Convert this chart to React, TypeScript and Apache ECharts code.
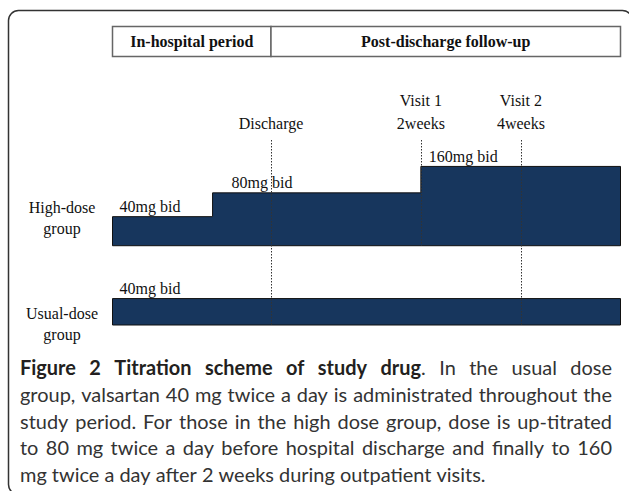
import React, { useEffect, useRef } from "react";
import * as echarts from "echarts";

// ---- data ----
const periodNames = ["In-hospital period", "Post-discharge follow-up"];
const periodStarts = [0, 3.12];
const timelineEnd = 10;

const highDoseStarts = [0, 1.97, 6.07];
const highDoseLevels = [4.1, 5.0, 6.0];
const highDoseBase = 3;
const highDoseLabels = ["40mg bid", "80mg bid", "160mg bid"];

const usualDoseStarts = [0];
const usualDoseLevels = [1];
const usualDoseBase = 0;
const usualDoseLabels = ["40mg bid"];

const markerNames = ["Discharge", "Visit 1\n2weeks", "Visit 2\n4weeks"];
const markerTimes = [3.12, 6.07, 8.04];
const markerTops = [7, 7, 7];
const markerBottoms = [0, 3, 0];

const groupNames = ["High-dose\ngroup", "Usual-dose\ngroup"];

const captionLines = [
  "Figure 2 Titration scheme of study drug. In the usual dose",
  "group, valsartan 40 mg twice a day is administrated throughout the",
  "study period. For those in the high dose group, dose is up-titrated",
  "to 80 mg twice a day before hospital discharge and finally to 160",
  "mg twice a day after 2 weeks during outpatient visits.",
];
const captionBoldChars = 39;

// ---- layout / style ----
const NAVY = "#17365d";
const SERIF = "Liberation Serif";
const SANS = "Lato";
const highLabelOffsets = [7, 19, 8];
const usualLabelOffsets = [7];

const serifStyle = (text: string, extra: any = {}) => ({
  text,
  fontFamily: SERIF,
  fontSize: 16,
  fontWeight: "normal",
  fill: "#111",
  ...extra,
});

function stepSeries(starts: number[], levels: number[], base: number, labels: string[], offsets: number[]) {
  return {
    type: "custom",
    coordinateSystem: "cartesian2d",
    clip: false,
    silent: true,
    data: starts.map((s, i) => [s, levels[i], i]),
    renderItem: (params: any, api: any) => {
      const i = params.dataIndex;
      const children: any[] = [];
      if (i === 0) {
        const pts: number[][] = [];
        pts.push(api.coord([starts[0], base]));
        for (let k = 0; k < starts.length; k++) {
          const end = k + 1 < starts.length ? starts[k + 1] : timelineEnd;
          pts.push(api.coord([starts[k], levels[k]]));
          pts.push(api.coord([end, levels[k]]));
        }
        pts.push(api.coord([timelineEnd, base]));
        children.push({
          type: "polygon",
          shape: { points: pts },
          style: { fill: NAVY, stroke: "#111", lineWidth: 1 },
        });
      }
      const p = api.coord([api.value(0), api.value(1)]);
      children.push({
        type: "text",
        x: p[0] + offsets[i],
        y: p[1] - 10,
        style: serifStyle(labels[i], { align: "left", verticalAlign: "middle" }),
      });
      return { type: "group", children };
    },
  };
}

export default function App() {
  const ref = useRef<HTMLDivElement>(null);
  useEffect(() => {
    if (!ref.current) return;
    const chart = echarts.init(ref.current, undefined, { renderer: "svg" });

    // caption layout (justified)
    const canvas = document.createElement("canvas");
    const ctx = canvas.getContext("2d")!;
    const measure = (t: string, bold: boolean, size: number) => {
      ctx.font = `${bold ? "bold " : ""}${size}px ${SANS}`;
      return ctx.measureText(t).width;
    };
    let capSize = (584 / measure(captionLines[1], false, 100)) * 100;
    capSize = Math.max(14, Math.min(20, capSize));
    const capLeft = 20;
    const capRight = 612;
    const capTop = 367;
    const capStep = 26.8;
    const captionEls: any[] = [];
    captionLines.forEach((line, li) => {
      const words: { bold: string; normal: string }[] = [];
      let idx = 0;
      line.split(" ").forEach((w) => {
        const a = li === 0 ? idx : 1e9;
        const nb = Math.max(0, Math.min(w.length, captionBoldChars - a));
        words.push({ bold: w.slice(0, nb), normal: w.slice(nb) });
        idx += w.length + 1;
      });
      const widths = words.map((w) => measure(w.bold, true, capSize) + measure(w.normal, false, capSize));
      const total = widths.reduce((s, v) => s + v, 0);
      const space = measure(" ", false, capSize);
      const justify = li < captionLines.length - 1;
      let gap = justify ? (capRight - capLeft - total) / (words.length - 1) : space;
      if (gap < space * 0.6) gap = space * 0.6;
      let x = capLeft;
      const y = capTop + li * capStep;
      words.forEach((w, wi) => {
        let text = "";
        if (w.bold) text += `{b|${w.bold}}`;
        if (w.normal) text += `{n|${w.normal}}`;
        captionEls.push({
          type: "text",
          x,
          y,
          silent: true,
          style: {
            text,
            align: "left",
            verticalAlign: "middle",
            rich: {
              b: { fontFamily: SANS, fontWeight: "bold", fontSize: capSize, fill: "#231f20" },
              n: { fontFamily: SANS, fontWeight: "normal", fontSize: capSize, fill: "#333" },
            },
          },
        });
        x += widths[wi] + gap;
      });
    });

    const option: any = {
      animation: false,
      grid: { left: 112.5, top: 140, width: 508, height: 185 },
      xAxis: { type: "value", min: 0, max: timelineEnd, show: false },
      yAxis: { type: "value", min: 0, max: 7, show: false },
      graphic: [
        {
          type: "rect",
          silent: true,
          shape: { x: 8.5, y: 10.5, width: 624, height: 484, r: 10 },
          style: { fill: "none", stroke: "#333", lineWidth: 1.5 },
        },
        {
          type: "text",
          x: 62,
          y: 218,
          silent: true,
          style: serifStyle(groupNames[0], { align: "center", verticalAlign: "middle", lineHeight: 21 }),
        },
        {
          type: "text",
          x: 62,
          y: 323.5,
          silent: true,
          style: serifStyle(groupNames[1], { align: "center", verticalAlign: "middle", lineHeight: 21 }),
        },
        ...captionEls,
      ],
      series: [
        {
          type: "custom",
          coordinateSystem: "cartesian2d",
          clip: false,
          silent: true,
          data: periodStarts.map((s, i) => [s, i]),
          renderItem: (params: any, api: any) => {
            const i = params.dataIndex;
            const s = api.value(0);
            const e = i + 1 < periodStarts.length ? periodStarts[i + 1] : timelineEnd;
            const x0 = api.coord([s, 0])[0];
            const x1 = api.coord([e, 0])[0];
            return {
              type: "group",
              children: [
                {
                  type: "rect",
                  shape: { x: x0, y: 26.5, width: x1 - x0, height: 30 },
                  style: { fill: "#fff", stroke: "#666", lineWidth: 1.5 },
                },
                {
                  type: "text",
                  x: (x0 + x1) / 2,
                  y: 41.5,
                  style: serifStyle(periodNames[i], { fontWeight: "bold", align: "center", verticalAlign: "middle" }),
                },
              ],
            };
          },
        },
        stepSeries(highDoseStarts, highDoseLevels, highDoseBase, highDoseLabels, highLabelOffsets),
        stepSeries(usualDoseStarts, usualDoseLevels, usualDoseBase, usualDoseLabels, usualLabelOffsets),
        {
          type: "custom",
          coordinateSystem: "cartesian2d",
          clip: false,
          silent: true,
          data: markerTimes.map((t, i) => [t, markerTops[i], markerBottoms[i]]),
          renderItem: (params: any, api: any) => {
            const i = params.dataIndex;
            const top = api.coord([api.value(0), api.value(1)]);
            const bot = api.coord([api.value(0), api.value(2)]);
            const x = Math.round(top[0]) + 0.5;
            return {
              type: "group",
              children: [
                {
                  type: "line",
                  shape: { x1: x, y1: top[1], x2: x, y2: bot[1] },
                  style: { stroke: "#333", lineWidth: 1, lineDash: [1.5, 1.5] },
                },
                {
                  type: "text",
                  x: top[0],
                  y: top[1] - 5,
                  style: serifStyle(markerNames[i], { align: "center", verticalAlign: "bottom", lineHeight: 23 }),
                },
              ],
            };
          },
        },
      ],
    };
    chart.setOption(option);
    return () => chart.dispose();
  }, []);
  return <div ref={ref} style={{ position: "absolute", left: 0, top: 0, width: 629, height: 491 }} />;
}
